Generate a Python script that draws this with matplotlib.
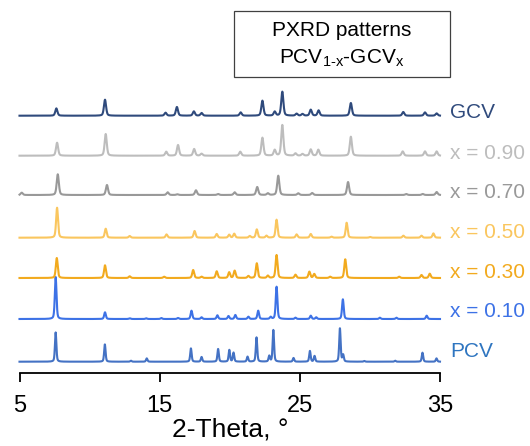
import numpy as np
import matplotlib.pyplot as plt
from matplotlib.patches import Rectangle

plt.rcParams['font.family'] = ['Liberation Sans', 'DejaVu Sans']
plt.rcParams['mathtext.fontset'] = 'custom'
plt.rcParams['mathtext.rm'] = 'Liberation Sans'
plt.rcParams['mathtext.it'] = 'Liberation Sans:italic'

# muestras, de abajo hacia arriba
etiquetas = ['PCV', 'x = 0.10', 'x = 0.30', 'x = 0.50', 'x = 0.70', 'x = 0.90', 'GCV']
colores = ['#4472c4', '#3d72e6', '#f2aa1e', '#fac65e', '#999999', '#bdbdbd', '#2f4a7c']
color_texto = ['#2e75c0', '#3d72e6', '#f2aa1e', '#fac65e', '#999999', '#bdbdbd', '#2f4a7c']
desplazamiento = [0, 42.7, 83.7, 124, 166.7, 206, 246]
ancho = [0.12, 0.14, 0.16, 0.16, 0.18, 0.18, 0.18]

# picos (2-theta, intensidad relativa)
pos_pcv = [7.58, 11.09, 12.95, 14.08, 17.23, 17.99, 19.17, 19.97, 20.27, 21.27, 21.91,
           22.82, 23.11, 24.55, 25.72, 26.05, 27.86, 28.09, 29.6, 31.8, 33.75, 34.75]
int_pcv = [29.3, 17.3, 1, 3.3, 13.3, 4.7, 12.7, 11.7, 9, 5, 24.3,
           5.7, 31.7, 3.7, 10.7, 5.7, 33.3, 6.7, 0.7, 1, 9, 3.3]

pos_010 = [7.58, 11.10, 12.86, 14.04, 15.12, 16.31, 17.27, 17.99, 19.12, 19.91, 20.40,
           21.33, 22.03, 22.92, 23.34, 24.69, 25.78, 26.17, 28.07, 30.71, 31.89, 34.05]
int_010 = [42, 6.7, 0.7, 0.7, 1, 1, 8.3, 1.7, 3.7, 3, 4,
           2.3, 8.3, 2, 32.3, 1.3, 3.3, 1.7, 19.7, 1.3, 1.3, 3.3]

pos_030 = [7.66, 11.10, 12.86, 15.32, 17.39, 17.99, 19.07, 19.96, 20.35, 21.33, 21.93,
           22.72, 23.34, 24.69, 25.68, 26.03, 27.16, 28.24, 32.09, 33.68, 34.27]
int_030 = [20, 12.7, 1.7, 1.3, 8, 1.3, 6.7, 5.7, 7.3, 2, 14.7,
           2.3, 23, 3.3, 6.3, 4, 1.3, 18.7, 1.3, 3, 4.3]

pos_050 = [7.68, 11.15, 12.86, 15.49, 17.49, 19.07, 19.96, 20.32, 21.43, 21.93,
           22.62, 23.34, 24.77, 25.78, 27.26, 28.34, 30.02, 32.39, 33.68, 34.53]
int_050 = [30, 9, 1.7, 3.3, 6.7, 3.7, 3, 4, 1.7, 8.3,
           2, 18, 3.3, 3.7, 1, 15, 0.7, 2, 2, 4.3]

pos_070 = [5.16, 7.73, 11.24, 15.57, 16.26, 17.59, 19.17, 20.35, 21.96, 22.72,
           23.46, 24.89, 25.88, 28.44, 32.59, 33.77, 34.76]
int_070 = [2.3, 20.7, 10, 2.7, 0.7, 4.7, 1, 2.7, 8, 1.7,
           19.3, 1.7, 2, 13, 1, 1, 3]

pos_090 = [7.68, 11.15, 15.47, 16.31, 17.46, 17.99, 20.75, 22.33, 23.21, 23.75,
           24.69, 25.19, 25.78, 26.32, 28.64, 32.34, 33.93, 34.76]
int_090 = [13, 21.7, 4, 10.7, 6.7, 2, 4, 18, 5.7, 30.7,
           2.3, 1.7, 6.3, 6, 19, 4.3, 4.3, 4.3]

pos_gcv = [7.63, 11.10, 15.42, 16.23, 17.44, 17.99, 20.78, 22.33, 23.21, 23.75,
           24.77, 25.19, 25.78, 26.34, 28.64, 32.38, 33.93, 34.76]
int_gcv = [7.3, 16, 3, 8.7, 4.3, 2.7, 3.3, 15, 4, 24,
           2, 1.7, 6, 5.3, 12.7, 3.7, 3.3, 2.3]

picos = [(pos_pcv, int_pcv), (pos_010, int_010), (pos_030, int_030), (pos_050, int_050),
         (pos_070, int_070), (pos_090, int_090), (pos_gcv, int_gcv)]

# altura de cada etiqueta sobre su linea base
dy_etiqueta = [10, 7.5, 5.5, 5.5, 2, 2.5, 3.5]


def patron(x, posiciones, intensidades, fwhm):
    # suma de picos pseudo-Voigt
    y = np.zeros_like(x)
    g = fwhm / 2
    s = fwhm / 2.3548
    for p, h in zip(posiciones, intensidades):
        lor = g**2 / ((x - p)**2 + g**2)
        gau = np.exp(-0.5 * ((x - p) / s)**2)
        y += h * (0.4 * lor + 0.6 * gau)
    return y


x = np.linspace(5, 35, 3001)

fig = plt.figure(figsize=(5.3, 4.46), dpi=100)
ax = fig.add_axes([19.5 / 530, 73 / 446, (440 - 19.5) / 530, 373 / 446])

for i, (pos, inten) in enumerate(picos):
    y = patron(x, pos, inten, ancho[i]) + desplazamiento[i]
    ax.plot(x, y, color=colores[i], lw=1.5, zorder=2 + i, clip_on=False)
    ax.text(35.7, desplazamiento[i] + dy_etiqueta[i], etiquetas[i], color=color_texto[i],
            fontsize=15, va='center', ha='left')

ax.set_xlim(5, 35)
ax.set_ylim(-11.3, 361.7)
ax.set_xticks([5, 15, 25, 35])
ax.set_yticks([])
for lado in ['left', 'top', 'right']:
    ax.spines[lado].set_visible(False)
ax.spines['bottom'].set_linewidth(1.3)
ax.tick_params(axis='x', direction='out', length=6.5, width=1.3, labelsize=17, pad=9)
ax.set_xlabel('2-Theta, °', fontsize=19, labelpad=1)
ax.patch.set_alpha(0)

# recuadro del titulo
fig.patches.append(Rectangle((234 / 530, 1 - 77 / 446), 216 / 530, 66 / 446,
                             transform=fig.transFigure, fill=False,
                             edgecolor='#404040', lw=0.9))
fig.text(342 / 530, 1 - 30 / 446, 'PXRD patterns', fontsize=15, ha='center', va='center')
fig.text(342 / 530, 1 - 58 / 446, r'PCV$_{\text{1-x}}$-GCV$_{\text{x}}$',
         fontsize=15, ha='center', va='center')

plt.savefig('out.png', dpi=100)
